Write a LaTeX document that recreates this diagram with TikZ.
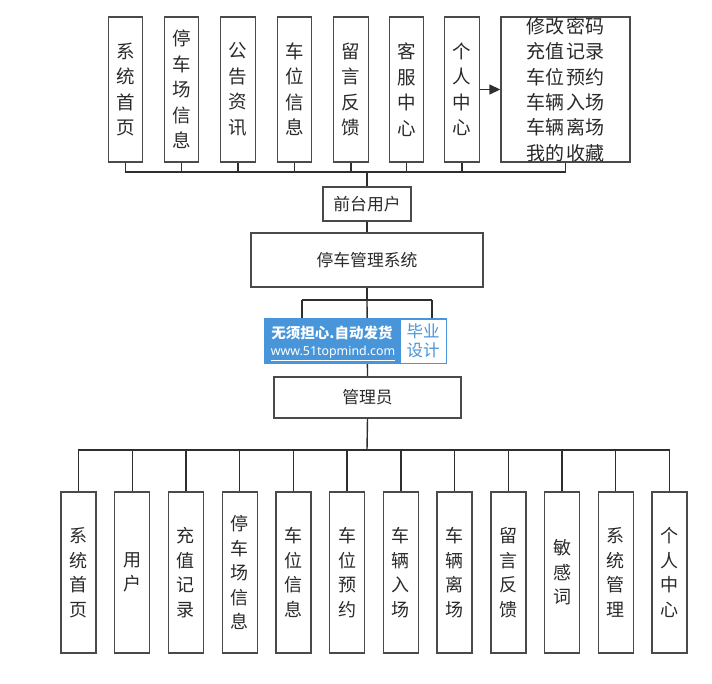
\documentclass[tikz,border=0pt]{standalone}
\usepackage{fontspec}
\newfontfamily\cjk{Noto Sans CJK SC}
\newfontfamily\wmfont{Noto Sans}
\usetikzlibrary{arrows.meta,calc}
\definecolor{linegray}{HTML}{2E2E2E}
\definecolor{boxgray}{HTML}{4A4A4A}
\definecolor{textgray}{HTML}{2A2A2A}
\definecolor{wmblue}{HTML}{4895D9}
\tikzset{
  ln/.style={draw=linegray, line width=1.4pt},
  topbox/.style={draw=boxgray, line width=1.4pt, fill=white, minimum width=34.5pt, minimum height=145pt, inner sep=0pt, align=center, text=textgray, font=\cjk\fontsize{18.5}{25.5}\selectfont},
  botbox/.style={draw=boxgray, line width=1.4pt, fill=white, minimum width=35pt, minimum height=161pt, inner sep=0pt, align=center, text=textgray, font=\cjk\fontsize{18}{24.5}\selectfont},
  midbox/.style={draw=boxgray, line width=1.4pt, fill=white, inner sep=0pt, align=center, text=textgray, font=\cjk\fontsize{16.8}{20}\selectfont},
}
\begin{document}
\begin{tikzpicture}[x=1pt,y=-1pt]
\useasboundingbox (0,0) rectangle (712,683);
% top row
\node[topbox] (t1) at (125.5,89.5) {系\\统\\首\\页};
\node[topbox] (t2) at (181.5,89.5) {停\\车\\场\\信\\息};
\node[topbox] (t3) at (238,89.5) {公\\告\\资\\讯};
\node[topbox] (t4) at (294.5,89.5) {车\\位\\信\\息};
\node[topbox] (t5) at (351,89.5) {留\\言\\反\\馈};
\node[topbox] (t6) at (406.5,89.5) {客\\服\\中\\心};
\node[topbox] (t7) at (462,89.5) {个\\人\\中\\心};
\node[topbox, minimum width=129pt, font=\cjk\fontsize{19}{25.3}\selectfont] (big) at (565.5,89.5)
  {修改\hspace{2pt}密码\\充值\hspace{2pt}记录\\车位\hspace{2pt}预约\\车辆\hspace{2pt}入场\\车辆\hspace{2pt}离场\\我的\hspace{2pt}收藏};
\draw[ln, -{Triangle[length=11pt,width=10pt]}] (t7.east) -- (big.west);
% middle
\node[midbox, minimum width=88pt, minimum height=34pt] (fu) at (367,204) {前台用户};
\node[midbox, minimum width=232pt, minimum height=54pt] (sys) at (367,260) {停车管理系统};
\node[midbox, minimum width=187pt, minimum height=41pt] (adm) at (367.5,397.5) {管理员};
\coordinate (tbus) at (367,172);
\foreach \n in {t1,t2,t3,t4,t5,t6,t7,big} { \draw[ln] (\n.south) |- (tbus); }
\draw[ln] (tbus) -- (fu.north);
\draw[ln] (fu.south) -- (sys.north);
\coordinate (brc) at (367,300);
\coordinate (brL) at (302,300);
\coordinate (brR) at (432,300);
\draw[ln] (sys.south) -- (brc);
\draw[ln] (brL) -- (brR);
\draw[ln] (brL) -- ++(0,20);
\draw[ln] (brR) -- ++(0,20);
\draw[ln] (brc) -- (adm.north);
% watermark
\node[fill=wmblue, minimum width=183pt, minimum height=46pt, inner sep=0pt] (wm) at (355.5,341) {};
\node[fill=white, minimum width=45pt, minimum height=43pt, inner sep=0pt, align=center, text=wmblue, font=\cjk\fontsize{16.5}{19}\selectfont] (wmr) at (423,341) {毕业\\设计};
\node[text=white, inner sep=0pt, font=\cjk\bfseries\fontsize{14.5}{16}\selectfont] (wm1) at (332,332.5) {无须担心.自动发货};
\node[text=white, inner sep=0pt, font=\wmfont\bfseries\fontsize{12.4}{14}\selectfont] (wm2) at (333,353.5) {\underline{www.51topmind.com}};
% bottom row
\coordinate (bbus) at (367,450);
\draw[ln] (adm.south) -- (bbus);
\node[botbox] (a1) at (78.5,572.5) {系\\统\\首\\页};
\node[botbox] (a2) at (132.2,572.5) {用\\户};
\node[botbox] (a3) at (185.9,572.5) {充\\值\\记\\录};
\node[botbox] (a4) at (239.7,572.5) {停\\车\\场\\信\\息};
\node[botbox] (a5) at (293.4,572.5) {车\\位\\信\\息};
\node[botbox] (a6) at (347.1,572.5) {车\\位\\预\\约};
\node[botbox] (a7) at (400.8,572.5) {车\\辆\\入\\场};
\node[botbox] (a8) at (454.5,572.5) {车\\辆\\离\\场};
\node[botbox] (a9) at (508.3,572.5) {留\\言\\反\\馈};
\node[botbox] (a10) at (562,572.5) {敏\\感\\词};
\node[botbox] (a11) at (615.7,572.5) {系\\统\\管\\理};
\node[botbox] (a12) at (669.4,572.5) {个\\人\\中\\心};
\foreach \n in {a1,a2,a3,a4,a5,a6,a7,a8,a9,a10,a11,a12} { \draw[ln] (\n.north) |- (bbus); }
\end{tikzpicture}
\end{document}
